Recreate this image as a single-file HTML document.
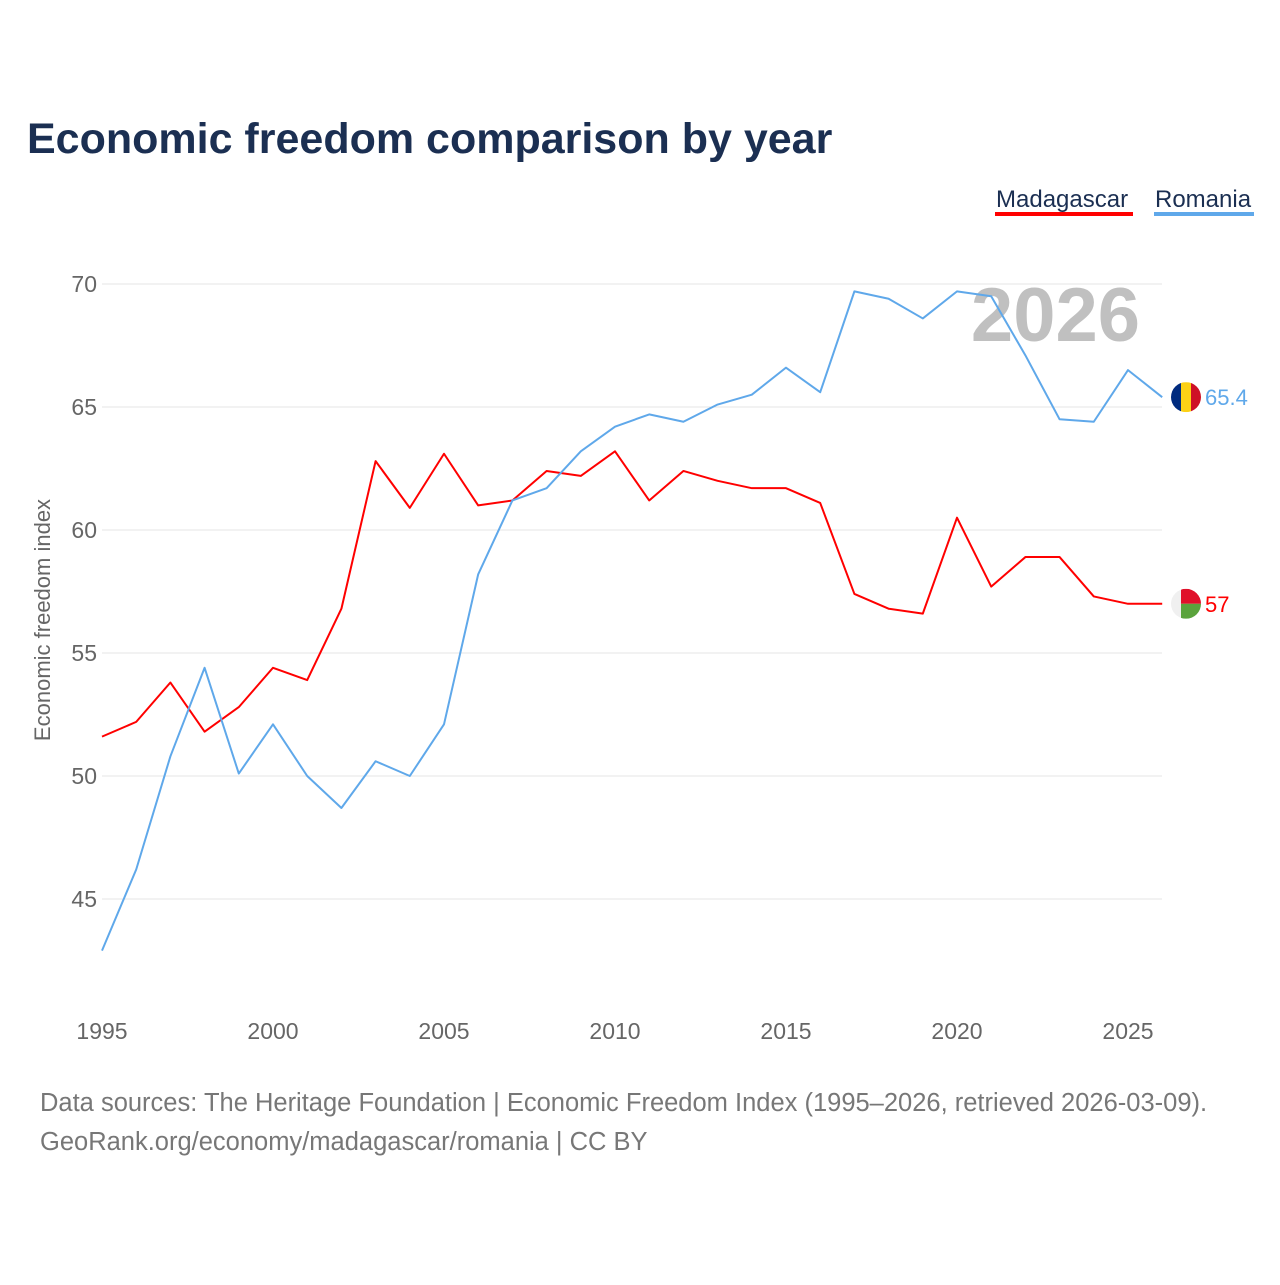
<!DOCTYPE html>
<html><head><meta charset="utf-8"><style>
body{margin:0;background:#fff;font-family:"Liberation Sans",sans-serif;}
</style></head><body>
<svg id="chart" width="1280" height="1280" viewBox="0 0 1280 1280" xmlns="http://www.w3.org/2000/svg">
<rect width="1280" height="1280" fill="#fff"/>
<text x="27" y="153" font-size="43" font-weight="bold" fill="#1b2f52">Economic freedom comparison by year</text>
<g>
<g><text x="996" y="207" font-size="24" fill="#1b2f52">Madagascar</text><rect x="995" y="212" width="138" height="4" fill="#ff0000"/></g>
<g><text x="1155" y="207" font-size="24" fill="#1b2f52">Romania</text><rect x="1154" y="212" width="100" height="4" fill="#5fa8ea"/></g>
</g>
<g id="grid"></g>
<text x="1140" y="341" text-anchor="end" font-size="76" font-weight="bold" fill="#c0c0c0">2026</text>
<g id="series"></g>
<text transform="translate(50,620) rotate(-90)" text-anchor="middle" font-size="22" fill="#666">Economic freedom index</text>
<text x="40" y="1111" font-size="25.5" fill="#777">Data sources: The Heritage Foundation | Economic Freedom Index (1995–2026, retrieved 2026-03-09).</text>
<text x="40" y="1150" font-size="25.5" fill="#777">GeoRank.org/economy/madagascar/romania | CC BY</text>
</svg>
<script>
const years=[1995,1996,1997,1998,1999,2000,2001,2002,2003,2004,2005,2006,2007,2008,2009,2010,2011,2012,2013,2014,2015,2016,2017,2018,2019,2020,2021,2022,2023,2024,2025,2026];
const romania=[42.9,46.2,50.8,54.4,50.1,52.1,50.0,48.7,50.6,50.0,52.1,58.2,61.2,61.7,63.2,64.2,64.7,64.4,65.1,65.5,66.6,65.6,69.7,69.4,68.6,69.7,69.5,67.1,64.5,64.4,66.5,65.4];
const madagascar=[51.6,52.2,53.8,51.8,52.8,54.4,53.9,56.8,62.8,60.9,63.1,61.0,61.2,62.4,62.2,63.2,61.2,62.4,62.0,61.7,61.7,61.1,57.4,56.8,56.6,60.5,57.7,58.9,58.9,57.3,57.0,57.0];
const yTicks=[45,50,55,60,65,70];
const xTicks=[1995,2000,2005,2010,2015,2020,2025];
const NS="http://www.w3.org/2000/svg";
const xs=y=>102+(y-1995)*34.2;
const ys=v=>284+(70-v)*24.6;
function el(t,a,p){const e=document.createElementNS(NS,t);for(const k in a)e.setAttribute(k,a[k]);p.appendChild(e);return e;}
const grid=document.getElementById('grid');
yTicks.forEach(t=>{
 const l=el('line',{x1:102,x2:1162,y1:ys(t),y2:ys(t),stroke:'#e6e6e6','stroke-width':1},grid);
 
 
 const tx=el('text',{x:97,y:ys(t)+8,'text-anchor':'end','font-size':23,fill:'#666'},grid);tx.textContent=t;
 
 
});
xTicks.forEach(t=>{
 const tx=el('text',{x:xs(t),y:1039,'text-anchor':'middle','font-size':23,fill:'#666'},grid);tx.textContent=t;
 
 
});
const s=document.getElementById('series');
function line(vals,col,name){
 const p=el('polyline',{points:vals.map((v,i)=>xs(years[i])+','+ys(v)).join(' '),fill:'none',stroke:col,'stroke-width':2,'stroke-linejoin':'round'},s);
 
 
}
line(madagascar,'#ff0000','madagascar-line');
line(romania,'#5fa8ea','romania-line');
const lr=romania[romania.length-1], lm=madagascar[madagascar.length-1];
const cx=1186;
let g=el('g',{},s);


let cy=ys(lr);
el('clipPath',{id:'cr'},g);el('circle',{cx:cx,cy:cy,r:15},g.lastChild);
el('rect',{x:cx-15,y:cy-15,width:10,height:30,fill:'#002b7f','clip-path':'url(#cr)'},g);
el('rect',{x:cx-5,y:cy-15,width:10,height:30,fill:'#fcd116','clip-path':'url(#cr)'},g);
el('rect',{x:cx+5,y:cy-15,width:10,height:30,fill:'#ce1126','clip-path':'url(#cr)'},g);
let t=el('text',{x:1205,y:cy+8,'font-size':22,fill:'#5fa8ea'},s);t.textContent=lr;


g=el('g',{},s);


cy=ys(lm);
el('clipPath',{id:'cm'},g);el('circle',{cx:cx,cy:cy,r:15},g.lastChild);
el('rect',{x:cx-15,y:cy-15,width:10,height:30,fill:'#f0f0f0','clip-path':'url(#cm)'},g);
el('rect',{x:cx-5,y:cy-15,width:20,height:15,fill:'#e0102a','clip-path':'url(#cm)'},g);
el('rect',{x:cx-5,y:cy,width:20,height:15,fill:'#5aa33c','clip-path':'url(#cm)'},g);
t=el('text',{x:1205,y:cy+8,'font-size':22,fill:'#ff0000'},s);t.textContent=lm;


</script>
</body></html>
